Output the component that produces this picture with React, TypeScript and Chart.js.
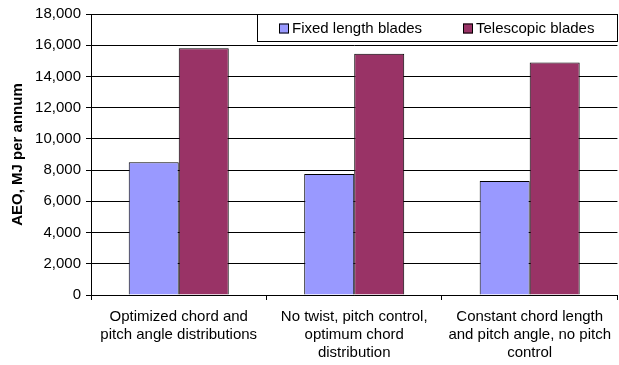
import React, { useEffect, useRef } from "react";
import { Chart, registerables } from "chart.js";

Chart.register(...registerables);

const categories: string[][] = [
  ["Optimized chord and", "pitch angle distributions"],
  ["No twist, pitch control,", "optimum chord", "distribution"],
  ["Constant chord length", "and pitch angle, no pitch", "control"],
];
const fixedLength = [8500, 7750, 7300];
const telescopic = [15800, 15450, 14900];
const seriesNames = ["Fixed length blades", "Telescopic blades"];
const yAxisTitle = "AEO, MJ per annum";

const FONT = "Arial, 'Liberation Sans', sans-serif";

const legendPlugin = {
  id: "boxLegend",
  afterDraw(chart: any) {
    const ctx = chart.ctx;
    const x0 = 257, y0 = 14, w = 361, h = 28;
    ctx.save();
    ctx.fillStyle = "#ffffff";
    ctx.fillRect(x0, y0, w, h);
    ctx.strokeStyle = "#000000";
    ctx.lineWidth = 1;
    ctx.strokeRect(x0 + 0.5, y0 + 0.5, w - 1, h - 1);
    ctx.font = `15px ${FONT}`;
    ctx.textBaseline = "middle";
    const items = chart.data.datasets;
    const xs = [279, 463];
    items.forEach((ds: any, i: number) => {
      const sx = xs[i];
      const cy = y0 + h / 2;
      ctx.fillStyle = ds.backgroundColor;
      ctx.fillRect(sx, cy - 4.5, 10, 10);
      ctx.strokeStyle = "#000";
      ctx.strokeRect(sx + 0.5, cy - 4.5 + 0.5, 9, 9);
      ctx.fillStyle = "#000";
      ctx.fillText(ds.label, sx + 13, cy + 1);
    });
    ctx.restore();
  },
};

export default function App() {
  const ref = useRef<HTMLCanvasElement>(null);
  useEffect(() => {
    document.body.style.margin = "0";
    const chart = new Chart(ref.current!, {
      type: "bar",
      data: {
        labels: categories,
        datasets: [
          {
            label: seriesNames[0],
            data: fixedLength,
            backgroundColor: "#9999FF",
            borderColor: "#000000",
            borderWidth: 1,
          },
          {
            label: seriesNames[1],
            data: telescopic,
            backgroundColor: "#993366",
            borderColor: "#000000",
            borderWidth: 1,
          },
        ],
      },
      options: {
        animation: false,
        responsive: false,
        maintainAspectRatio: false,
        layout: { padding: { top: 13, right: -3, left: 0, bottom: 0 } },
        plugins: {
          legend: { display: false },
          tooltip: { enabled: false },
        },
        datasets: {
          bar: { barPercentage: 1, categoryPercentage: 0.57 },
        },
        scales: {
          x: {
            grid: {
              offset: true,
              drawOnChartArea: false,
              drawTicks: true,
              tickLength: 5,
              color: "#000",
            },
            border: { color: "#000", width: 1 },
            ticks: {
              color: "#000",
              font: { family: FONT, size: 15, lineHeight: 1.2 },
              padding: 8,
              maxRotation: 0,
              autoSkip: false,
            },
            afterFit(scale: any) {
              scale.height = 70;
            },
          },
          y: {
            min: 0,
            max: 18000,
            grid: { color: "#000", tickLength: 5, drawTicks: true },
            border: { color: "#000", width: 1 },
            ticks: {
              stepSize: 2000,
              color: "#000",
              font: { family: FONT, size: 15 },
              padding: 5,
              callback: (v: any) => Number(v).toLocaleString("en-US"),
            },
            title: {
              display: true,
              text: yAxisTitle,
              color: "#000",
              font: { family: FONT, size: 15, weight: "bold" },
              padding: { top: 9, bottom: 4 },
            },
            afterFit(scale: any) {
              scale.width = 91;
            },
          },
        },
      },
      plugins: [legendPlugin],
    });
    return () => chart.destroy();
  }, []);
  return <canvas ref={ref} width={619} height={365} style={{ display: "block" }} />;
}
